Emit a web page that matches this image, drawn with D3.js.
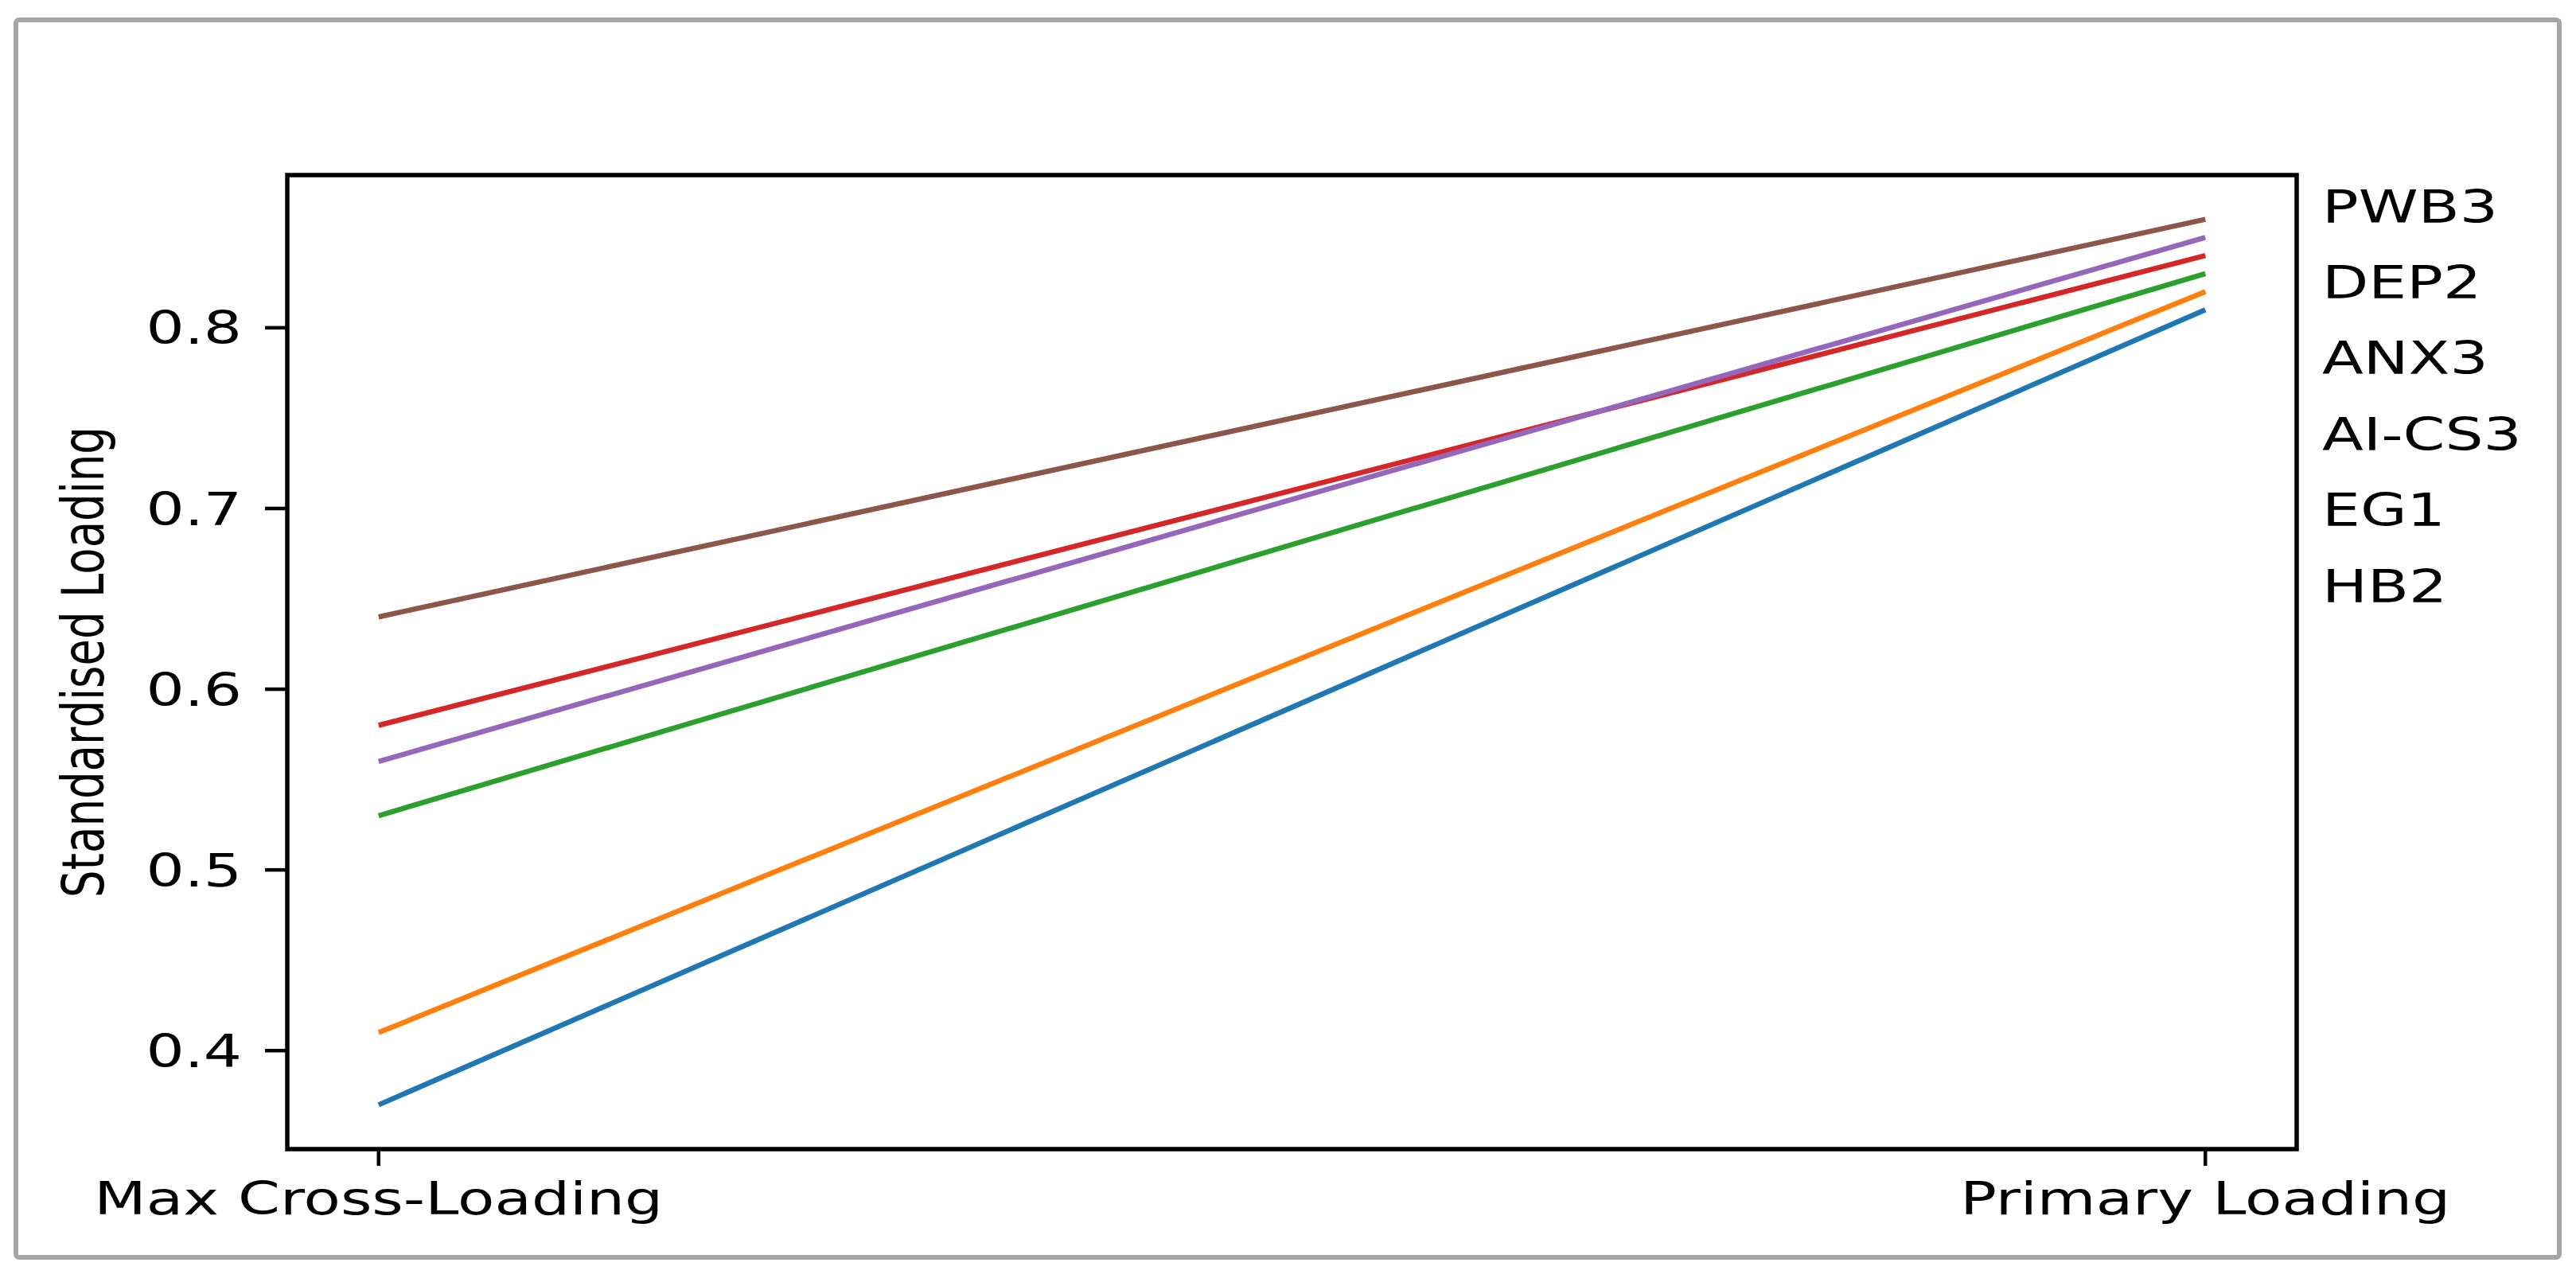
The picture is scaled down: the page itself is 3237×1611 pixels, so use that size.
<!DOCTYPE html>
<html>
<head>
<meta charset="utf-8">
<script src="https://cdn.jsdelivr.net/npm/d3@7"></script>
<style>
  html, body { margin: 0; padding: 0; background: #ffffff; }
  svg { display: block; }
</style>
</head>
<body>
<svg id="chart" width="3237" height="1611"></svg>
<script>
// ---- data ----
const categories = ["Max Cross-Loading", "Primary Loading"];
const items = ["HB2", "EG1", "AI-CS3", "ANX3", "DEP2", "PWB3"];
const crossLoading = [0.37, 0.41, 0.53, 0.58, 0.56, 0.64];
const primaryLoading = [0.81, 0.82, 0.83, 0.84, 0.85, 0.86];
const colors = ["#1f77b4", "#ff7f0e", "#2ca02c", "#d62728", "#9467bd", "#8c564b"];
const yTicks = [0.4, 0.5, 0.6, 0.7, 0.8];
const yLabel = "Standardised Loading";

// ---- layout ----
const W = 3237, H = 1611;
const plot = { left: 361, right: 2886, top: 220, bottom: 1444 };
const SX = 1.33;          // horizontal stretch of the original picture
const FONT = "DejaVu Sans, Liberation Sans, sans-serif";
const fs = 57;

const svg = d3.select("#chart");

// outer frame
svg.append("rect")
  .attr("x", 20).attr("y", 25)
  .attr("width", 3196).attr("height", 1555)
  .attr("rx", 4).attr("ry", 4)
  .attr("fill", "#ffffff")
  .attr("stroke", "#a6a6a6")
  .attr("stroke-width", 6);

// scales (matplotlib-like 5% margins)
const allVals = crossLoading.concat(primaryLoading);
const yMin = d3.min(allVals), yMax = d3.max(allVals);
const yPad = (yMax - yMin) * 0.05;
const y = d3.scaleLinear().domain([yMin - yPad, yMax + yPad]).range([plot.bottom, plot.top]);
const x = d3.scaleLinear().domain([-0.05, 1.05]).range([plot.left, plot.right]);

// lines
const series = items.map((name, i) => ({
  name, color: colors[i],
  pts: [[0, crossLoading[i]], [1, primaryLoading[i]]]
}));
const line = d3.line().x(d => x(d[0])).y(d => y(d[1]));
svg.append("g").selectAll("path").data(series).join("path")
  .attr("d", d => line(d.pts))
  .attr("fill", "none")
  .attr("stroke", d => d.color)
  .attr("stroke-width", 6.5)
  .attr("stroke-linecap", "butt");

// spines
svg.append("rect")
  .attr("x", plot.left).attr("y", plot.top)
  .attr("width", plot.right - plot.left).attr("height", plot.bottom - plot.top)
  .attr("fill", "none").attr("stroke", "#000").attr("stroke-width", 5.5);

// y ticks
const yAxisG = svg.append("g");
yTicks.forEach(t => {
  yAxisG.append("line")
    .attr("x1", plot.left - 28).attr("x2", plot.left)
    .attr("y1", y(t)).attr("y2", y(t))
    .attr("stroke", "#000").attr("stroke-width", 4.5);
  yAxisG.append("text")
    .attr("transform", `translate(${plot.left - 57},${y(t)}) scale(${SX},1)`)
    .attr("text-anchor", "end")
    .attr("dy", "0.36em")
    .attr("font-family", FONT).attr("font-size", fs)
    .attr("fill", "#000")
    .text(d3.format(".1f")(t));
});

// x ticks
const xAxisG = svg.append("g");
categories.forEach((c, i) => {
  xAxisG.append("line")
    .attr("x1", x(i)).attr("x2", x(i))
    .attr("y1", plot.bottom).attr("y2", plot.bottom + 21)
    .attr("stroke", "#000").attr("stroke-width", 4.5);
  xAxisG.append("text")
    .attr("transform", `translate(${x(i)},1526) scale(${SX},1)`)
    .attr("text-anchor", "middle")
    .attr("font-family", FONT).attr("font-size", fs)
    .attr("fill", "#000")
    .text(c);
});

// y axis label
svg.append("text")
  .attr("transform", `translate(130,${(plot.top + plot.bottom) / 2}) scale(${SX},1) rotate(-90)`)
  .attr("text-anchor", "middle")
  .attr("font-family", FONT).attr("font-size", 54.5)
  .attr("fill", "#000")
  .text(yLabel);

// right-hand item labels (ordered by primary loading, highest first)
const order = d3.range(items.length).sort((a, b) => primaryLoading[b] - primaryLoading[a]);
const labelStep = 95.4;
const labelTop = y(yMax) + 4;
svg.append("g").selectAll("text").data(order).join("text")
  .attr("transform", (d, k) => `translate(${plot.right + 32},${labelTop + k * labelStep}) scale(${SX},1)`)
  .attr("text-anchor", "start")
  .attr("font-family", FONT).attr("font-size", fs)
  .attr("fill", "#000")
  .text(d => items[d]);
</script>
</body>
</html>
